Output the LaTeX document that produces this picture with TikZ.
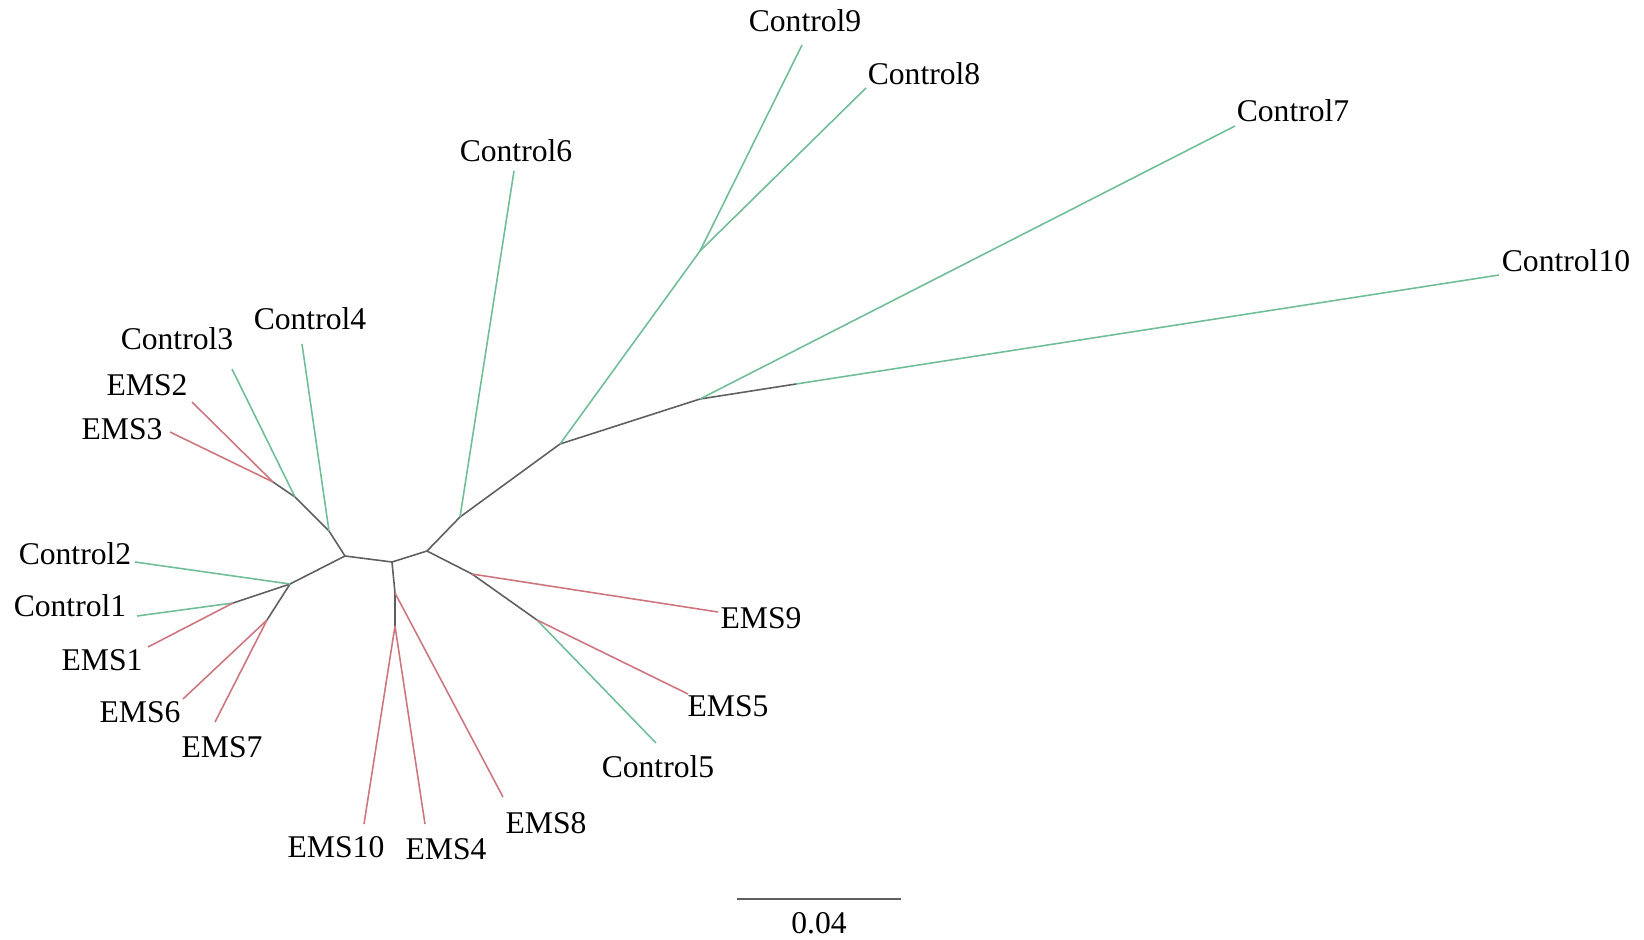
\documentclass[tikz,border=0pt]{standalone}
\usepackage{fontspec}
\setmainfont{Liberation Serif}
\definecolor{ctrlgreen}{RGB}{112,190,152}
\definecolor{emsred}{RGB}{205,118,128}
\definecolor{treegray}{RGB}{95,95,95}
\tikzset{
  branch/.style={draw=treegray, line width=0.9pt},
  ctrl/.style={draw=ctrlgreen, line width=0.9pt},
  ems/.style={draw=emsred, line width=0.9pt},
  taxon/.style={font=\fontsize{18}{20}\selectfont, inner sep=0pt}
}
\begin{document}
\begin{tikzpicture}[x=0.02cm,y=-0.02cm]
  \useasboundingbox (0,0) rectangle (1644,940);

  % inner nodes of the tree
  \coordinate (A) at (345,556);
  \coordinate (E) at (392,562);
  \coordinate (F) at (427,551);
  \coordinate (B) at (290,584);
  \coordinate (C) at (233,603);
  \coordinate (D) at (267,620);
  \coordinate (N1) at (329,531);
  \coordinate (N2) at (295,497);
  \coordinate (N3) at (273,482);
  \coordinate (G) at (395,593);
  \coordinate (H) at (395,626);
  \coordinate (I) at (472,574);
  \coordinate (J) at (537,620);
  \coordinate (K) at (460,517);
  \coordinate (L) at (560,444);
  \coordinate (M) at (700,251);
  \coordinate (P) at (700,399);
  \coordinate (Q) at (796,384);

  % tips
  \coordinate (t-c9) at (802,45);
  \coordinate (t-c8) at (866,88);
  \coordinate (t-c7) at (1235,126);
  \coordinate (t-c6) at (514,171);
  \coordinate (t-c10) at (1499,275);
  \coordinate (t-c4) at (302,344);
  \coordinate (t-c3) at (232,369);
  \coordinate (t-e2) at (192,402);
  \coordinate (t-e3) at (170,432);
  \coordinate (t-c2) at (135,562);
  \coordinate (t-c1) at (137,616);
  \coordinate (t-e1) at (148,647);
  \coordinate (t-e6) at (183,699);
  \coordinate (t-e7) at (215,722);
  \coordinate (t-e10) at (364,824);
  \coordinate (t-e4) at (425,824);
  \coordinate (t-e8) at (503,797);
  \coordinate (t-c5) at (656,743);
  \coordinate (t-e5) at (688,694);
  \coordinate (t-e9) at (718,612);

  % inner branches
  \draw[branch] (A) -- (N1) -- (N2) -- (N3);
  \draw[branch] (A) -- (B) (B) -- (C) (B) -- (D);
  \draw[branch] (A) -- (E) -- (F);
  \draw[branch] (E) -- (G) -- (H);
  \draw[branch] (F) -- (I) -- (J);
  \draw[branch] (F) -- (K) -- (L) -- (P) -- (Q);
  \draw[ctrl] (L) -- (M);

  % leaves
  \draw[ctrl] (M) -- (t-c9);
  \draw[ctrl] (M) -- (t-c8);
  \draw[ctrl] (P) -- (t-c7);
  \draw[ctrl] (Q) -- (t-c10);
  \draw[ctrl] (K) -- (t-c6);
  \draw[ctrl] (N1) -- (t-c4);
  \draw[ctrl] (N2) -- (t-c3);
  \draw[ems] (N3) -- (t-e2);
  \draw[ems] (N3) -- (t-e3);
  \draw[ctrl] (B) -- (t-c2);
  \draw[ctrl] (C) -- (t-c1);
  \draw[ems] (C) -- (t-e1);
  \draw[ems] (D) -- (t-e6);
  \draw[ems] (D) -- (t-e7);
  \draw[ems] (H) -- (t-e10);
  \draw[ems] (H) -- (t-e4);
  \draw[ems] (G) -- (t-e8);
  \draw[ctrl] (J) -- (t-c5);
  \draw[ems] (J) -- (t-e5);
  \draw[ems] (I) -- (t-e9);

  % labels
  \node[taxon] (c9) at (805,21) {Control9};
  \node[taxon] (c8) at (924,74) {Control8};
  \node[taxon] (c7) at (1293,111) {Control7};
  \node[taxon] (c6) at (516,151) {Control6};
  \node[taxon] (c10) at (1566,261) {Control10};
  \node[taxon] (c4) at (310,319) {Control4};
  \node[taxon] (c3) at (177,339) {Control3};
  \node[taxon] (e2) at (147,385) {EMS2};
  \node[taxon] (e3) at (122,429) {EMS3};
  \node[taxon] (c2) at (75,554) {Control2};
  \node[taxon] (c1) at (70,606) {Control1};
  \node[taxon] (e1) at (102,660) {EMS1};
  \node[taxon] (e6) at (140,712) {EMS6};
  \node[taxon] (e7) at (222,747) {EMS7};
  \node[taxon] (e10) at (336,847) {EMS10};
  \node[taxon] (e4) at (446,849) {EMS4};
  \node[taxon] (e8) at (546,823) {EMS8};
  \node[taxon] (c5) at (658,767) {Control5};
  \node[taxon] (e5) at (728,706) {EMS5};
  \node[taxon] (e9) at (761,618) {EMS9};

  % scale bar
  \coordinate (sb-l) at (737,899);
  \coordinate (sb-r) at (901,899);
  \draw[treegray, line width=0.9pt] (sb-l) -- (sb-r);
  \node[taxon] (sb) at (819,923) {0.04};
\end{tikzpicture}
\end{document}
